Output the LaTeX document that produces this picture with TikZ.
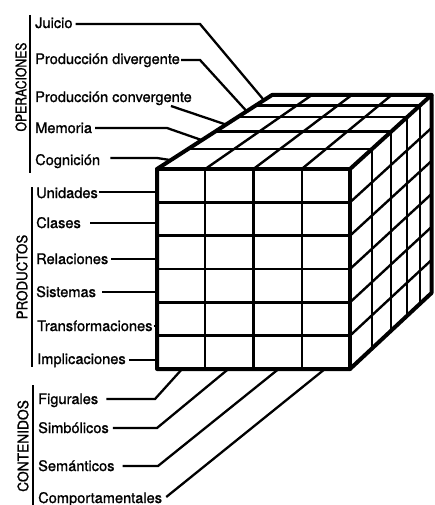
\documentclass[tikz,border=0pt]{standalone}
\usepackage{fontspec}
\setmainfont[FakeBold=1.2,AutoFakeBold=1.2]{TeX Gyre Heros}
\usetikzlibrary{calc}
\begin{document}
\begin{tikzpicture}[x=1pt,y=-1pt,
  outer/.style={line width=4pt, line join=round, line cap=round},
  gridline/.style={line width=2.4pt},
  lead/.style={line width=2.3pt, line join=miter},
  bar/.style={line width=2pt},
  lab/.style={anchor=base west, inner sep=0pt, font=\fontsize{14.6}{17}\selectfont\bfseries},
  cat/.style={rotate=90, inner sep=0pt, anchor=center, font=\fontsize{14.5}{17}\selectfont\bfseries}]

\useasboundingbox (0,0) rectangle (434,505);

% cube corners
\coordinate (FTL) at (157,169);
\coordinate (FTR) at (350,169);
\coordinate (FBL) at (157,369);
\coordinate (FBR) at (350,369);
\coordinate (BTL) at (272,95);
\coordinate (BTR) at (431.5,95);
\coordinate (BBR) at (431.5,293);

% front face grid
\foreach \f in {0.25,0.5,0.75}
  \draw[gridline] ($(FTL)!\f!(FTR)$) -- ($(FBL)!\f!(FBR)$);
\foreach \f in {1,...,5}
  \draw[gridline] ($(FTL)!{\f/6}!(FBL)$) -- ($(FTR)!{\f/6}!(FBR)$);

% top face grid
\foreach \t in {0.27,0.505,0.70,0.86}
  \draw[gridline] ($(FTL)!\t!(BTL)$) -- ($(FTR)!\t!(BTR)$);
\foreach \f in {0.25,0.5,0.75}
  \draw[gridline] ($(FTL)!\f!(FTR)$) -- ($(BTL)!\f!(BTR)$);

% right face grid
\foreach \t in {0.27,0.505,0.70,0.86}
  \draw[gridline] ($(FTR)!\t!(BTR)$) -- ($(FBR)!\t!(BBR)$);
\foreach \f in {1,...,5}
  \draw[gridline] ($(FTR)!{\f/6}!(FBR)$) -- ($(BTR)!{\f/6}!(BBR)$);

% cube outline
\draw[outer] (FBL) -- (FTL) -- (BTL) -- (BTR) -- (BBR) -- (FBR) -- cycle;
\draw[outer] (FTL) -- (FTR) -- (FBR);
\draw[outer] (FTR) -- (BTR);

% category labels and bars
\node[cat] (operaciones) at (21,87) {\scalebox{0.84}[1]{OPERACIONES}};
\node[cat] (productos) at (22,277) {\scalebox{0.92}[1]{PRODUCTOS}};
\node[cat] (contenidos) at (23,446) {\scalebox{0.95}[1]{CONTENIDOS}};
\coordinate (opA) at (30,15);  \coordinate (opB) at (30,173);
\coordinate (prA) at (32,187); \coordinate (prB) at (32,367);
\coordinate (coA) at (33,385); \coordinate (coB) at (33,505);
\draw[bar] (opA) -- (opB);
\draw[bar] (prA) -- (prB);
\draw[bar] (coA) -- (coB);

% item labels
\node[lab] (juicio) at (35,28) {Juicio};
\node[lab] (pdiv) at (35,64) {Producción divergente};
\node[lab] (pconv) at (35,102) {Producción convergente};
\node[lab] (memoria) at (35,133) {Memoria};
\node[lab] (cognicion) at (35,165) {Cognición};

\node[lab] (unidades) at (36,198) {Unidades};
\node[lab] (clases) at (36,228) {Clases};
\node[lab] (relaciones) at (36,264) {Relaciones};
\node[lab] (sistemas) at (36,297) {Sistemas};
\node[lab] (transf) at (37,331) {Transformaciones};
\node[lab] (implic) at (37,364) {Implicaciones};

\node[lab] (figurales) at (38,404) {Figurales};
\node[lab] (simbolicos) at (38,433) {Simbólicos};
\node[lab] (semanticos) at (38,471) {Semánticos};
\node[lab] (comport) at (38,503) {Comportamentales};

% end points on the cube
\coordinate (o1) at ($(FTL)!0.93!(BTL)$);
\coordinate (o2) at ($(FTL)!0.78!(BTL)$);
\coordinate (o3) at ($(FTL)!0.60!(BTL)$);
\coordinate (o4) at ($(FTL)!0.39!(BTL)$);
\coordinate (o5) at ($(FTL)!0.12!(BTL)$);
\coordinate (c1) at ($(FBL)!0.13!(FBR)$);
\coordinate (c2) at ($(FBL)!0.37!(FBR)$);
\coordinate (c3) at ($(FBL)!0.63!(FBR)$);
\coordinate (c4) at ($(FBL)!0.87!(FBR)$);
% bend columns
\coordinate (bj) at (200,0);
\coordinate (bm) at (167,0);
\coordinate (bc) at (157,0);
\coordinate (bf) at (155,0);
\coordinate (bs) at (157,0);
\coordinate (be) at (158,0);

% operation connectors
\draw[lead] ($(juicio.base east)+(3,-4)$) coordinate (s1) -- (s1 -| bj) -- (o1);
\draw[lead] ($(pdiv.base east)+(1,-4)$) coordinate (s2) -- (s2 -| bj) -- (o2);
\draw[lead] ($(pconv.base east)+(-21,4)$) -- (o3);
\draw[lead] ($(memoria.base east)+(3,-5)$) coordinate (s4) -- (s4 -| bm) -- (o4);
\draw[lead] ($(cognicion.base east)+(10,-7)$) coordinate (s5) -- (s5 -| bc) -- (o5);

% product connectors
\draw[lead] ($(unidades.base east)+(1,-6)$) coordinate (p1) -- (p1 -| FTL);
\draw[lead] ($(clases.base east)+(9,-5)$) coordinate (p2) -- (p2 -| FTL);
\draw[lead] ($(relaciones.base east)+(3,-5)$) coordinate (p3) -- (p3 -| FTL);
\draw[lead] ($(sistemas.base east)+(6,-5)$) coordinate (p4) -- (p4 -| FTL);
\draw[lead] ($(transf.base east)+(1,-5)$) coordinate (p5) -- (p5 -| FTL);
\draw[lead] ($(implic.base east)+(3,-4)$) coordinate (p6) -- (p6 -| FTL);

% content connectors
\draw[lead] ($(figurales.base east)+(8,-5)$) coordinate (k1) -- (k1 -| bf) -- (c1);
\draw[lead] ($(simbolicos.base east)+(4,-5)$) coordinate (k2) -- (k2 -| bs) -- (c2);
\draw[lead] ($(semanticos.base east)+(8,-5)$) coordinate (k3) -- (k3 -| be) -- (c3);
\draw[lead] ($(comport.base east)+(4,-6)$) -- (c4);
\end{tikzpicture}
\end{document}
